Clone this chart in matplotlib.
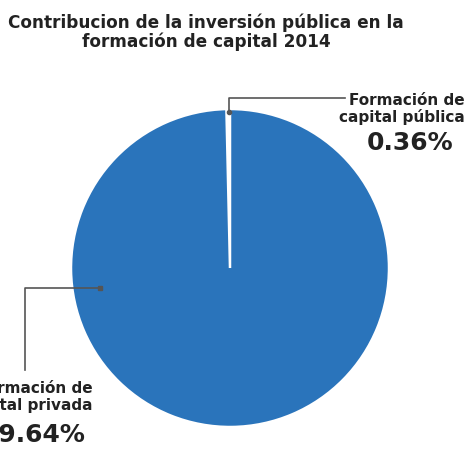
import numpy as np
import matplotlib.pyplot as plt

etiquetas = ['Formación de\ncapital pública', 'Formación de\ncapital privada']
valores = [0.36, 99.64]
porcentajes = ['0.36%', '99.64%']
colores = ['#ffffff', '#2a74bb']

W, H = 471, 454
fig = plt.figure(figsize=(W / 100, H / 100), dpi=100)
ax = fig.add_axes([0, 0, 1, 1])

cx, cy, r = 230, H - 268, 159
ax.pie(valores, colors=colores, startangle=90, counterclock=True,
       center=(cx, cy), radius=r, frame=True,
       wedgeprops=dict(edgecolor='white', linewidth=1.8))
ax.set_xlim(0, W)
ax.set_ylim(0, H)
ax.set_aspect('equal')
ax.axis('off')

gris = '#555555'
# linea capital publica
ax.plot([229, 229, 345], [H - 112, H - 98, H - 98], color=gris, lw=1.2)
ax.plot(229, H - 112, 'o', color=gris, ms=3)
# linea capital privada
ax.plot([100, 25, 25], [H - 288, H - 288, H - 370], color=gris, lw=1.2)
ax.plot(100, H - 288, 's', color=gris, ms=2.5)

txt = '#222222'
ax.text(465, H - 109, etiquetas[0], ha='right', va='center', fontsize=11,
        fontweight='bold', color=txt, linespacing=1.15)
ax.text(410, H - 143, porcentajes[0], ha='center', va='center', fontsize=18,
        fontweight='bold', color=txt)
ax.text(93, H - 397, etiquetas[1], ha='right', va='center', fontsize=11,
        fontweight='bold', color=txt, linespacing=1.15)
ax.text(86, H - 435, porcentajes[1], ha='right', va='center', fontsize=18,
        fontweight='bold', color=txt)

fig.text(206 / W, 1 - 32 / H,
         'Contribucion de la inversión pública en la\nformación de capital 2014',
         ha='center', va='center', fontsize=12.2, fontweight='bold', color=txt,
         linespacing=1.05)

fig.savefig('out.png', dpi=100)
